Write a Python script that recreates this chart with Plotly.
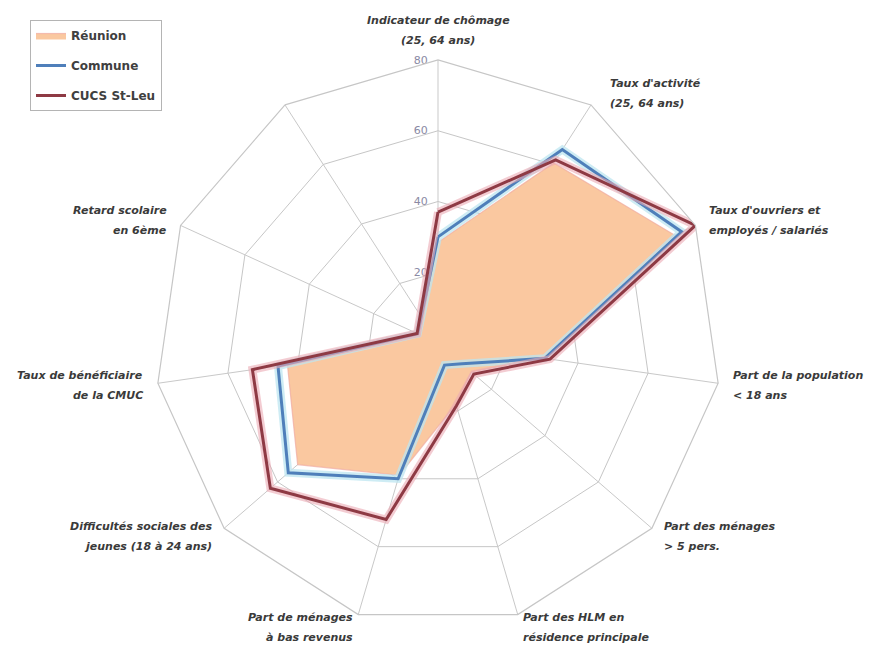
import math
import plotly.graph_objects as go

# Axis labels (one list of text lines per axis; the last axis carries no label)
label_lines = [
    ["Indicateur de chômage", "(25, 64 ans)"],
    ["Taux d'activité", "(25, 64 ans)"],
    ["Taux d'ouvriers et", "employés / salariés"],
    ["Part de la population", "< 18 ans"],
    ["Part des ménages", "> 5 pers."],
    ["Part des HLM en", "résidence principale"],
    ["Part de ménages", "à bas revenus"],
    ["Difficultés sociales des", "jeunes (18 à 24 ans)"],
    ["Taux de bénéficiaire", "de la CMUC"],
    ["Retard scolaire", "en 6ème"],
    [],
]
categories = [" ".join(lines) if lines else " " for lines in label_lines]

# Indicator values (None = no value on the unlabelled axis)
reunion = [28.5, 60.5, 73.5, 30, 12.5, 18, 39, 52.5, 43, 6, None]
commune = [30, 65, 75.7, 30.5, 9, 6.5, 40, 56, 45.7, 6.3, None]
cucs_st_leu = [37, 61.5, 80, 32, 13.4, 18.5, 52, 62.7, 53, 6.5, None]

radial_ticks = [0, 20, 40, 60, 80]

# Page geometry (pixels)
W, H = 869, 645
CX, CY, RAD = 438, 343, 283


def closed(values):
    return values + values[:1], categories + categories[:1]


fig = go.Figure()

r, th = closed(reunion)
fig.add_trace(go.Scatterpolar(
    r=r, theta=th, name="Réunion", mode="lines", fill="toself",
    fillcolor="#FAC8A0", line=dict(color="rgba(240,170,160,0.7)", width=1.2),
    connectgaps=True, legendgroup="a", hoverinfo="skip",
))

r, th = closed(commune)
fig.add_trace(go.Scatterpolar(
    r=r, theta=th, mode="lines", showlegend=False, connectgaps=True,
    line=dict(color="rgba(190,230,240,0.75)", width=8), hoverinfo="skip",
))
fig.add_trace(go.Scatterpolar(
    r=r, theta=th, name="Commune", mode="lines", connectgaps=True,
    line=dict(color="#4F7FBA", width=3), legendgroup="b",
))

r, th = closed(cucs_st_leu)
fig.add_trace(go.Scatterpolar(
    r=r, theta=th, mode="lines", showlegend=False, connectgaps=True,
    line=dict(color="rgba(235,170,180,0.6)", width=8), hoverinfo="skip",
))
fig.add_trace(go.Scatterpolar(
    r=r, theta=th, name="CUCS St-Leu", mode="lines", connectgaps=True,
    line=dict(color="#8E3A44", width=3), legendgroup="c",
))

# Axis labels placed just outside each outer vertex
annotations = []
n_axes = len(categories)
pad, spacing = 13, 20
for k, lines in enumerate(label_lines):
    if not lines:
        continue
    a = 2 * math.pi * k / n_axes
    ux, uy = math.sin(a), -math.cos(a)
    vx, vy = CX + RAD * ux, CY + RAD * uy
    bx, by = vx + pad * ux, vy + pad * uy
    if abs(ux) < 0.2:
        xanchor = "center"
        by = vy - pad - (len(lines) - 1) * spacing / 2 - 7
    else:
        xanchor = "left" if ux > 0 else "right"
        if 0.3 < ux < 0.7 and uy < 0:
            bx += 10
    for j, txt in enumerate(lines):
        ly = by + (j - (len(lines) - 1) / 2) * spacing
        annotations.append(dict(
            x=bx / W, y=1 - ly / H, xref="paper", yref="paper",
            text=txt, showarrow=False, xanchor=xanchor, yanchor="middle",
            font=dict(family="DejaVu Sans", size=11, color="#3a3a3a",
                      weight="bold", style="italic"),
        ))

fig.update_layout(
    width=W, height=H,
    margin=dict(l=0, r=0, t=0, b=0),
    paper_bgcolor="white",
    showlegend=True,
    legend=dict(
        x=30 / W, y=1 - 20 / H, xanchor="left", yanchor="top",
        bgcolor="white", bordercolor="#b4b4b4", borderwidth=1,
        tracegroupgap=11, traceorder="grouped",
        font=dict(family="DejaVu Sans", size=12, color="#404040", weight="bold"),
    ),
    polar=dict(
        domain=dict(x=[(CX - RAD) / W, (CX + RAD) / W],
                    y=[1 - (CY + RAD) / H, 1 - (CY - RAD) / H]),
        bgcolor="white",
        gridshape="linear",
        angularaxis=dict(
            rotation=90, direction="clockwise",
            categoryorder="array", categoryarray=categories,
            showticklabels=False, ticks="",
            gridcolor="rgba(110,110,110,0.38)", gridwidth=1,
            linecolor="#c6c6c6", linewidth=1.2,
            layer="above traces",
        ),
        radialaxis=dict(
            range=[0, 80], tickvals=radial_ticks, angle=90,
            side="counterclockwise", tickangle=90,
            showline=False, ticks="outside", ticklen=6,
            tickcolor="rgba(0,0,0,0)",
            gridcolor="#c6c6c6", gridwidth=1.2,
            tickfont=dict(family="DejaVu Sans", size=11, color="#8a8aa4"),
            layer="below traces",
        ),
    ),
    annotations=annotations,
)

fig.write_html("out.html")
